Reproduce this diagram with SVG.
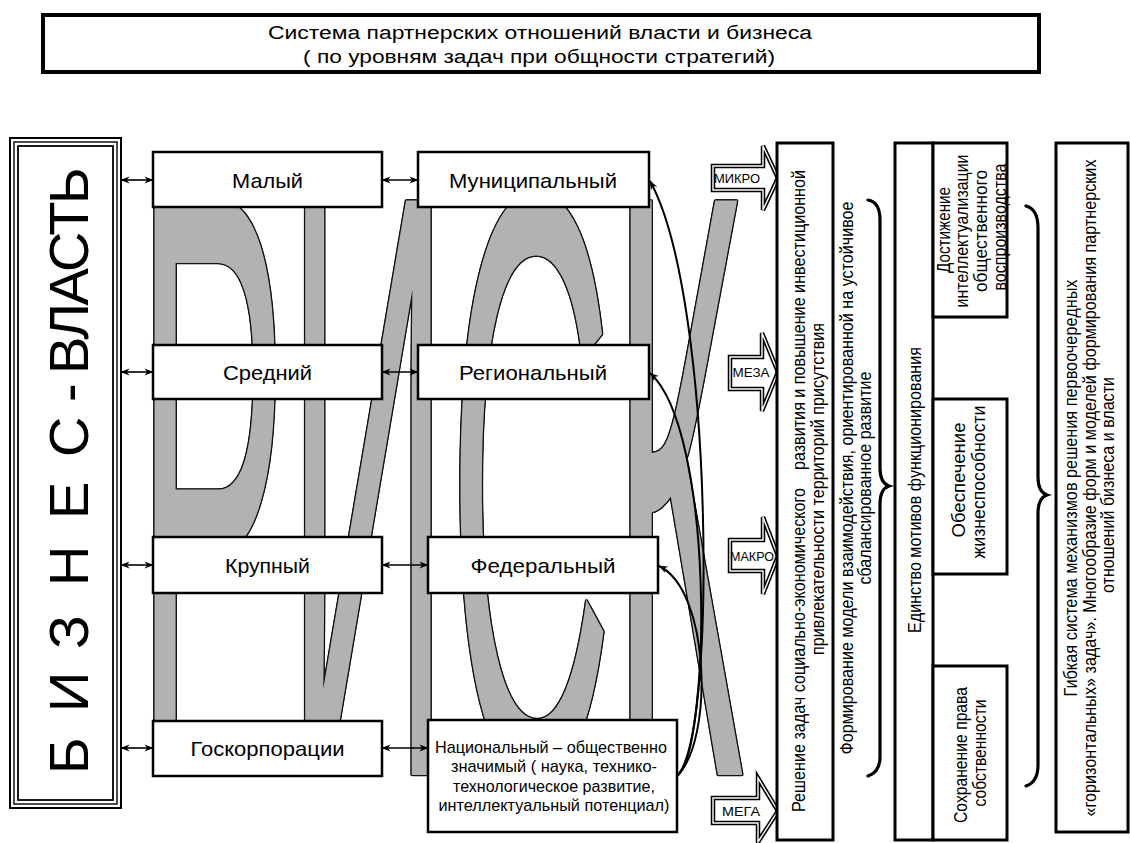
<svg xmlns="http://www.w3.org/2000/svg" xmlns:xlink="http://www.w3.org/1999/xlink" width="1130" height="843" viewBox="0 0 1130 843">
<style>
.t{font-family:"Liberation Sans",Arial,sans-serif;fill:#000}
.bx{fill:#fff;stroke:#000;stroke-width:2.5}
.lb{font-size:21px;text-anchor:middle}
.rt{font-size:18px;text-anchor:middle;white-space:pre}
.ln{stroke:#000;stroke-width:1.6;fill:none}
.cv{stroke:#000;stroke-width:2;fill:none}
.br{stroke:#000;stroke-width:3.2;fill:none;stroke-linecap:round}
.ao{fill:#fff;stroke:#000;stroke-width:4.5;stroke-linejoin:miter}
.ai{fill:none;stroke:#fff;stroke-width:1.4;stroke-linejoin:miter}
.al{font-size:12px;text-anchor:middle}
.ol{fill:#111}
</style>
<defs>
<marker id="ah" viewBox="0 0 10 10" refX="9.5" refY="5" markerWidth="9" markerHeight="9" markerUnits="userSpaceOnUse" orient="auto-start-reverse">
<path d="M0,1 L10,5 L0,9 L3,5 z" fill="#000"/>
</marker>
<text id="rk" transform="translate(136,775) scale(0.2705,1)" x="0" y="0" font-size="835" font-family="Liberation Sans, Arial, sans-serif">РИСК</text>
</defs>
<rect width="1130" height="843" fill="#fff"/>

<!-- background word -->
<g id="risk">
<use href="#rk" xlink:href="#rk" class="ol" transform="translate(-1.3,0)"/>
<use href="#rk" xlink:href="#rk" class="ol" transform="translate(1.3,0)"/>
<use href="#rk" xlink:href="#rk" class="ol" transform="translate(0,-1.3)"/>
<use href="#rk" xlink:href="#rk" class="ol" transform="translate(0,1.3)"/>
<use href="#rk" xlink:href="#rk" class="ol" transform="translate(-0.95,-0.95)"/>
<use href="#rk" xlink:href="#rk" class="ol" transform="translate(0.95,-0.95)"/>
<use href="#rk" xlink:href="#rk" class="ol" transform="translate(-0.95,0.95)"/>
<use href="#rk" xlink:href="#rk" class="ol" transform="translate(0.95,0.95)"/>
<use href="#rk" xlink:href="#rk" fill="#b2b2b2"/>
</g>

<!-- title -->
<g id="title">
<rect x="43" y="15" width="996" height="57" fill="#fff" stroke="#000" stroke-width="4"/>
<text class="t" x="540" y="39" font-size="18" text-anchor="middle" textLength="544" lengthAdjust="spacingAndGlyphs">Система партнерских отношений власти и бизнеса</text>
<text class="t" x="539" y="63" font-size="18" text-anchor="middle" textLength="472" lengthAdjust="spacingAndGlyphs">( по уровням задач при общности стратегий)</text>
</g>

<!-- left label -->
<g id="biznes-vlast">
<rect x="10" y="138" width="111" height="670" fill="#fff" stroke="#000" stroke-width="2"/>
<rect x="14" y="142" width="103" height="662" fill="none" stroke="#000" stroke-width="1.4"/>
<rect x="18" y="146" width="95" height="654" fill="none" stroke="#000" stroke-width="1.8"/>
<text class="t" transform="rotate(-90)" y="88" font-size="56"><tspan x="-774">Б </tspan><tspan x="-712">И </tspan><tspan x="-649">З </tspan><tspan x="-586">Н </tspan><tspan x="-519">Е </tspan><tspan x="-457">С </tspan><tspan x="-402">- </tspan><tspan x="-374" letter-spacing="-2.5">ВЛАСТЬ</tspan></text>
</g>

<!-- column 1 -->
<g id="maly"><rect class="bx" x="153" y="152" width="229" height="55"/><text class="t lb" x="267.5" y="188" textLength="71" lengthAdjust="spacingAndGlyphs">Малый</text></g>
<g id="sredny"><rect class="bx" x="153" y="345" width="229" height="54"/><text class="t lb" x="267.5" y="380" textLength="89" lengthAdjust="spacingAndGlyphs">Средний</text></g>
<g id="krupny"><rect class="bx" x="153" y="537" width="229" height="56"/><text class="t lb" x="267.5" y="573" textLength="85" lengthAdjust="spacingAndGlyphs">Крупный</text></g>
<g id="goskorp"><rect class="bx" x="153" y="721" width="229" height="55"/><text class="t lb" x="267.5" y="756" textLength="154" lengthAdjust="spacingAndGlyphs">Госкорпорации</text></g>

<!-- column 2 -->
<g id="municipal"><rect class="bx" x="418" y="152" width="231" height="55"/><text class="t lb" x="533" y="188" textLength="168" lengthAdjust="spacingAndGlyphs">Муниципальный</text></g>
<g id="regional"><rect class="bx" x="418" y="345" width="231" height="54"/><text class="t lb" x="533" y="380" textLength="148" lengthAdjust="spacingAndGlyphs">Региональный</text></g>
<g id="federal"><rect class="bx" x="428" y="537" width="230" height="56"/><text class="t lb" x="543" y="573" textLength="145" lengthAdjust="spacingAndGlyphs">Федеральный</text></g>
<g id="national"><rect class="bx" x="428" y="720" width="249" height="112"/>
<text class="t" font-size="17" text-anchor="middle" x="551" y="753" textLength="232" lengthAdjust="spacingAndGlyphs">Национальный – общественно</text>
<text class="t" font-size="17" text-anchor="middle" x="554" y="772" textLength="206" lengthAdjust="spacingAndGlyphs">значимый ( наука, технико-</text>
<text class="t" font-size="17" text-anchor="middle" x="554" y="792" textLength="202" lengthAdjust="spacingAndGlyphs">технологическое развитие,</text>
<text class="t" font-size="17" text-anchor="middle" x="554" y="811" textLength="231" lengthAdjust="spacingAndGlyphs">интеллектуальный потенциал)</text>
</g>

<!-- connectors -->
<g id="connectors">
<line class="ln" x1="121" y1="180" x2="153" y2="180" marker-start="url(#ah)" marker-end="url(#ah)"/>
<line class="ln" x1="121" y1="372" x2="153" y2="372" marker-start="url(#ah)" marker-end="url(#ah)"/>
<line class="ln" x1="121" y1="565" x2="153" y2="565" marker-start="url(#ah)" marker-end="url(#ah)"/>
<line class="ln" x1="121" y1="748" x2="153" y2="748" marker-start="url(#ah)" marker-end="url(#ah)"/>
<line class="ln" x1="382" y1="180" x2="418" y2="180" marker-start="url(#ah)" marker-end="url(#ah)"/>
<line class="ln" x1="382" y1="372" x2="418" y2="372" marker-start="url(#ah)" marker-end="url(#ah)"/>
<line class="ln" x1="382" y1="565" x2="428" y2="565" marker-start="url(#ah)" marker-end="url(#ah)"/>
<line class="ln" x1="382" y1="748" x2="428" y2="748" marker-start="url(#ah)" marker-end="url(#ah)"/>
<path class="cv" d="M677,776 C716,750 716,300 650,181" marker-end="url(#ah)"/>
<path class="cv" d="M677,776 C712,740 714,430 650,373" marker-end="url(#ah)"/>
<path class="cv" d="M677,776 C714,740 710,590 659,566" marker-end="url(#ah)"/>
</g>

<!-- level arrows -->
<g id="mikro"><polygon class="ao" points="713,166 763,166 763,146 778,178 763,210 763,190 713,190"/><polygon class="ai" points="713,166 763,166 763,146 778,178 763,210 763,190 713,190"/><text class="t al" x="737" y="183" textLength="46" lengthAdjust="spacingAndGlyphs">МИКРО</text></g>
<g id="meza"><polygon class="ao" points="730,357 762,357 762,333 778,372 762,411 762,389 730,389"/><polygon class="ai" points="730,357 762,357 762,333 778,372 762,411 762,389 730,389"/><text class="t al" x="751" y="377" textLength="37" lengthAdjust="spacingAndGlyphs">МЕЗА</text></g>
<g id="makro"><polygon class="ao" points="730,540 763,540 763,517 778,556 763,594 763,571 730,571"/><polygon class="ai" points="730,540 763,540 763,517 778,556 763,594 763,571 730,571"/><text class="t al" x="752" y="561" textLength="44" lengthAdjust="spacingAndGlyphs">МАКРО</text></g>
<g id="mega"><polygon class="ao" points="713,798 758,798 758,778 778,811 758,842 758,823 713,823"/><polygon class="ai" points="713,798 758,798 758,778 778,811 758,842 758,823 713,823"/><text class="t al" x="741" y="816" textLength="38" lengthAdjust="spacingAndGlyphs">МЕГА</text></g>

<!-- right column 1 -->
<g id="reshenie">
<rect x="777" y="143" width="56" height="697" fill="#fff" stroke="#000" stroke-width="3"/>
<text class="t rt" transform="translate(805,491) rotate(-90)" textLength="642" lengthAdjust="spacingAndGlyphs">Решение задач социально-экономического    развития и повышение инвестиционной</text>
<text class="t rt" transform="translate(824,489) rotate(-90)" textLength="332" lengthAdjust="spacingAndGlyphs">привлекательности территорий присутствия</text>
</g>

<g id="formirovanie">
<text class="t rt" transform="translate(853,478) rotate(-90)" textLength="553" lengthAdjust="spacingAndGlyphs">Формирование модели взаимодействия, ориентированной на устойчивое</text>
<text class="t rt" transform="translate(871,478) rotate(-90)" textLength="213" lengthAdjust="spacingAndGlyphs">сбалансированное развитие</text>
<path class="br" d="M868,200 Q880,202 880,220 L880,468 Q880,483 889,486 Q880,489 880,504 L880,757 Q880,772 868,776"/>
</g>

<g id="edinstvo">
<rect x="895" y="143" width="38" height="697" fill="#fff" stroke="#000" stroke-width="3"/>
<text class="t rt" transform="translate(921,490) rotate(-90)" textLength="286" lengthAdjust="spacingAndGlyphs">Единство мотивов функционирования</text>
</g>
<g id="dostizhenie">
<rect x="933" y="143" width="74" height="174" fill="#fff" stroke="#000" stroke-width="3"/>
<text class="t rt" font-size="17" transform="translate(950,230) rotate(-90)" textLength="86" lengthAdjust="spacingAndGlyphs">Достижение</text>
<text class="t rt" font-size="17" transform="translate(968,231) rotate(-90)" textLength="153" lengthAdjust="spacingAndGlyphs">интеллектуализации</text>
<text class="t rt" font-size="17" transform="translate(987,231) rotate(-90)" textLength="122" lengthAdjust="spacingAndGlyphs">общественного</text>
<text class="t rt" font-size="17" transform="translate(1006,227) rotate(-90)" textLength="127" lengthAdjust="spacingAndGlyphs">воспроизводства</text>
</g>
<g id="obespechenie">
<rect x="933" y="399" width="74" height="175" fill="#fff" stroke="#000" stroke-width="3"/>
<text class="t rt" font-size="17" transform="translate(965,480) rotate(-90)" textLength="115" lengthAdjust="spacingAndGlyphs">Обеспечение</text>
<text class="t rt" font-size="17" transform="translate(985,482) rotate(-90)" textLength="153" lengthAdjust="spacingAndGlyphs">жизнеспособности</text>
</g>
<g id="sokhranenie">
<rect x="933" y="666" width="74" height="174" fill="#fff" stroke="#000" stroke-width="3"/>
<text class="t rt" font-size="17" transform="translate(967,755) rotate(-90)" textLength="136" lengthAdjust="spacingAndGlyphs">Сохранение права</text>
<text class="t rt" font-size="17" transform="translate(986,753) rotate(-90)" textLength="107" lengthAdjust="spacingAndGlyphs">собственности</text>
</g>
<path class="br" d="M1026,206 Q1038,209 1038,228 L1038,477 Q1038,492 1047,495 Q1038,498 1038,513 L1038,765 Q1038,782 1026,786"/>

<g id="gibkaya">
<rect x="1056" y="143" width="72" height="689" fill="#fff" stroke="#000" stroke-width="3"/>
<text class="t rt" transform="translate(1077,488) rotate(-90)" textLength="417" lengthAdjust="spacingAndGlyphs">Гибкая система механизмов решения первоочередных</text>
<text class="t rt" transform="translate(1096,488) rotate(-90)" textLength="657" lengthAdjust="spacingAndGlyphs">«горизонтальных» задач». Многообразие форм и моделей формирования партнерских</text>
<text class="t rt" transform="translate(1114,485) rotate(-90)" textLength="216" lengthAdjust="spacingAndGlyphs">отношений бизнеса и власти</text>
</g>
</svg>
